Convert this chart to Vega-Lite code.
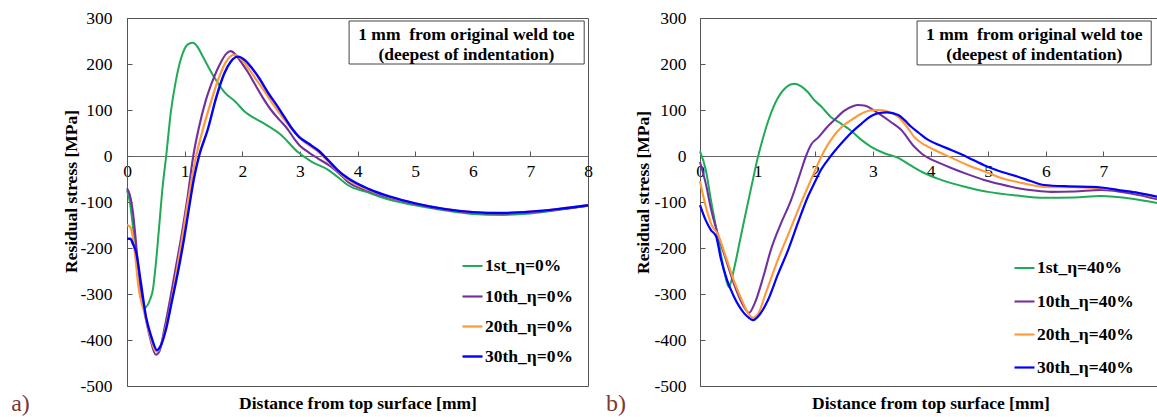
{
  "$schema": "https://vega.github.io/schema/vega-lite/v6.json",
  "background": "white",
  "padding": {"left": 10, "top": 8, "right": 0, "bottom": 0},
  "bounds": "flush",
  "spacing": 112,
  "config": {
    "font": "Liberation Serif, Times New Roman, serif",
    "view": {"stroke": "#555", "strokeWidth": 1},
    "axis": {"grid": false, "labelFont": "Liberation Serif, Times New Roman, serif", "labelFontSize": 17.5, "labelColor": "#000", "titleFont": "Liberation Serif, Times New Roman, serif", "titleFontSize": 17.5, "titleFontWeight": "bold", "titleColor": "#000", "domainColor": "#555", "tickColor": "#555", "labelFlush": false, "labelOverlap": false},
    "legend": {"symbolType": "stroke", "symbolSize": 400, "symbolStrokeWidth": 2.5, "labelFont": "Liberation Serif, Times New Roman, serif", "labelFontSize": 17.5, "labelFontWeight": "bold", "labelColor": "#000", "labelOffset": 1, "padding": 0}
  },
  "datasets": {
    "left": [
      {"d": 0, "s": -75, "series": "1st_η=0%"},
      {"d": 0.05, "s": -100, "series": "1st_η=0%"},
      {"d": 0.1, "s": -150, "series": "1st_η=0%"},
      {"d": 0.2, "s": -260, "series": "1st_η=0%"},
      {"d": 0.3, "s": -330, "series": "1st_η=0%"},
      {"d": 0.4, "s": -312, "series": "1st_η=0%"},
      {"d": 0.45, "s": -290, "series": "1st_η=0%"},
      {"d": 0.5, "s": -235, "series": "1st_η=0%"},
      {"d": 0.55, "s": -165, "series": "1st_η=0%"},
      {"d": 0.62, "s": -65, "series": "1st_η=0%"},
      {"d": 0.68, "s": 0, "series": "1st_η=0%"},
      {"d": 0.76, "s": 95, "series": "1st_η=0%"},
      {"d": 0.85, "s": 165, "series": "1st_η=0%"},
      {"d": 0.97, "s": 224, "series": "1st_η=0%"},
      {"d": 1.05, "s": 242, "series": "1st_η=0%"},
      {"d": 1.14, "s": 246, "series": "1st_η=0%"},
      {"d": 1.22, "s": 238, "series": "1st_η=0%"},
      {"d": 1.32, "s": 215, "series": "1st_η=0%"},
      {"d": 1.49, "s": 176, "series": "1st_η=0%"},
      {"d": 1.69, "s": 139, "series": "1st_η=0%"},
      {"d": 1.89, "s": 117, "series": "1st_η=0%"},
      {"d": 2.03, "s": 98, "series": "1st_η=0%"},
      {"d": 2.33, "s": 74, "series": "1st_η=0%"},
      {"d": 2.67, "s": 46, "series": "1st_η=0%"},
      {"d": 2.97, "s": 8, "series": "1st_η=0%"},
      {"d": 3.2, "s": -12, "series": "1st_η=0%"},
      {"d": 3.49, "s": -30, "series": "1st_η=0%"},
      {"d": 3.65, "s": -45, "series": "1st_η=0%"},
      {"d": 3.83, "s": -63, "series": "1st_η=0%"},
      {"d": 4.2, "s": -80, "series": "1st_η=0%"},
      {"d": 4.58, "s": -96, "series": "1st_η=0%"},
      {"d": 5, "s": -107, "series": "1st_η=0%"},
      {"d": 5.5, "s": -118, "series": "1st_η=0%"},
      {"d": 6, "s": -126, "series": "1st_η=0%"},
      {"d": 6.5, "s": -128, "series": "1st_η=0%"},
      {"d": 7, "s": -125, "series": "1st_η=0%"},
      {"d": 7.5, "s": -117, "series": "1st_η=0%"},
      {"d": 8, "s": -108, "series": "1st_η=0%"},

      {"d": 0, "s": -70, "series": "10th_η=0%"},
      {"d": 0.05, "s": -85, "series": "10th_η=0%"},
      {"d": 0.1, "s": -120, "series": "10th_η=0%"},
      {"d": 0.15, "s": -180, "series": "10th_η=0%"},
      {"d": 0.2, "s": -250, "series": "10th_η=0%"},
      {"d": 0.3, "s": -335, "series": "10th_η=0%"},
      {"d": 0.4, "s": -395, "series": "10th_η=0%"},
      {"d": 0.5, "s": -432, "series": "10th_η=0%"},
      {"d": 0.56, "s": -425, "series": "10th_η=0%"},
      {"d": 0.65, "s": -375, "series": "10th_η=0%"},
      {"d": 0.75, "s": -310, "series": "10th_η=0%"},
      {"d": 0.85, "s": -240, "series": "10th_η=0%"},
      {"d": 0.95, "s": -170, "series": "10th_η=0%"},
      {"d": 1.05, "s": -90, "series": "10th_η=0%"},
      {"d": 1.15, "s": 0, "series": "10th_η=0%"},
      {"d": 1.25, "s": 63, "series": "10th_η=0%"},
      {"d": 1.37, "s": 122, "series": "10th_η=0%"},
      {"d": 1.49, "s": 165, "series": "10th_η=0%"},
      {"d": 1.63, "s": 204, "series": "10th_η=0%"},
      {"d": 1.72, "s": 222, "series": "10th_η=0%"},
      {"d": 1.8, "s": 228, "series": "10th_η=0%"},
      {"d": 1.9, "s": 218, "series": "10th_η=0%"},
      {"d": 1.98, "s": 204, "series": "10th_η=0%"},
      {"d": 2.1, "s": 182, "series": "10th_η=0%"},
      {"d": 2.21, "s": 158, "series": "10th_η=0%"},
      {"d": 2.35, "s": 128, "series": "10th_η=0%"},
      {"d": 2.5, "s": 100, "series": "10th_η=0%"},
      {"d": 2.65, "s": 78, "series": "10th_η=0%"},
      {"d": 2.79, "s": 58, "series": "10th_η=0%"},
      {"d": 2.9, "s": 38, "series": "10th_η=0%"},
      {"d": 3.02, "s": 20, "series": "10th_η=0%"},
      {"d": 3.15, "s": 8, "series": "10th_η=0%"},
      {"d": 3.31, "s": -5, "series": "10th_η=0%"},
      {"d": 3.54, "s": -23, "series": "10th_η=0%"},
      {"d": 3.7, "s": -40, "series": "10th_η=0%"},
      {"d": 3.83, "s": -56, "series": "10th_η=0%"},
      {"d": 4.2, "s": -76, "series": "10th_η=0%"},
      {"d": 4.58, "s": -92, "series": "10th_η=0%"},
      {"d": 5, "s": -104, "series": "10th_η=0%"},
      {"d": 5.5, "s": -116, "series": "10th_η=0%"},
      {"d": 6, "s": -123, "series": "10th_η=0%"},
      {"d": 6.5, "s": -125, "series": "10th_η=0%"},
      {"d": 7, "s": -122, "series": "10th_η=0%"},
      {"d": 7.5, "s": -116, "series": "10th_η=0%"},
      {"d": 8, "s": -108, "series": "10th_η=0%"},

      {"d": 0, "s": -150, "series": "20th_η=0%"},
      {"d": 0.06, "s": -155, "series": "20th_η=0%"},
      {"d": 0.1, "s": -175, "series": "20th_η=0%"},
      {"d": 0.15, "s": -225, "series": "20th_η=0%"},
      {"d": 0.2, "s": -285, "series": "20th_η=0%"},
      {"d": 0.3, "s": -340, "series": "20th_η=0%"},
      {"d": 0.4, "s": -390, "series": "20th_η=0%"},
      {"d": 0.5, "s": -425, "series": "20th_η=0%"},
      {"d": 0.55, "s": -422, "series": "20th_η=0%"},
      {"d": 0.65, "s": -385, "series": "20th_η=0%"},
      {"d": 0.75, "s": -330, "series": "20th_η=0%"},
      {"d": 0.85, "s": -260, "series": "20th_η=0%"},
      {"d": 0.95, "s": -185, "series": "20th_η=0%"},
      {"d": 1.05, "s": -105, "series": "20th_η=0%"},
      {"d": 1.2, "s": 0, "series": "20th_η=0%"},
      {"d": 1.3, "s": 50, "series": "20th_η=0%"},
      {"d": 1.45, "s": 115, "series": "20th_η=0%"},
      {"d": 1.6, "s": 172, "series": "20th_η=0%"},
      {"d": 1.72, "s": 205, "series": "20th_η=0%"},
      {"d": 1.85, "s": 220, "series": "20th_η=0%"},
      {"d": 1.97, "s": 212, "series": "20th_η=0%"},
      {"d": 2.1, "s": 192, "series": "20th_η=0%"},
      {"d": 2.25, "s": 165, "series": "20th_η=0%"},
      {"d": 2.4, "s": 138, "series": "20th_η=0%"},
      {"d": 2.55, "s": 110, "series": "20th_η=0%"},
      {"d": 2.7, "s": 84, "series": "20th_η=0%"},
      {"d": 2.85, "s": 60, "series": "20th_η=0%"},
      {"d": 2.99, "s": 40, "series": "20th_η=0%"},
      {"d": 3.15, "s": 24, "series": "20th_η=0%"},
      {"d": 3.31, "s": 10, "series": "20th_η=0%"},
      {"d": 3.49, "s": -12, "series": "20th_η=0%"},
      {"d": 3.65, "s": -32, "series": "20th_η=0%"},
      {"d": 3.83, "s": -51, "series": "20th_η=0%"},
      {"d": 4.2, "s": -74, "series": "20th_η=0%"},
      {"d": 4.58, "s": -90, "series": "20th_η=0%"},
      {"d": 5, "s": -103, "series": "20th_η=0%"},
      {"d": 5.5, "s": -115, "series": "20th_η=0%"},
      {"d": 6, "s": -122, "series": "20th_η=0%"},
      {"d": 6.5, "s": -124, "series": "20th_η=0%"},
      {"d": 7, "s": -121, "series": "20th_η=0%"},
      {"d": 7.5, "s": -115, "series": "20th_η=0%"},
      {"d": 8, "s": -107, "series": "20th_η=0%"},

      {"d": 0, "s": -180, "series": "30th_η=0%"},
      {"d": 0.06, "s": -180, "series": "30th_η=0%"},
      {"d": 0.1, "s": -190, "series": "30th_η=0%"},
      {"d": 0.16, "s": -210, "series": "30th_η=0%"},
      {"d": 0.24, "s": -275, "series": "30th_η=0%"},
      {"d": 0.33, "s": -350, "series": "30th_η=0%"},
      {"d": 0.42, "s": -392, "series": "30th_η=0%"},
      {"d": 0.52, "s": -422, "series": "30th_η=0%"},
      {"d": 0.58, "s": -414, "series": "30th_η=0%"},
      {"d": 0.67, "s": -380, "series": "30th_η=0%"},
      {"d": 0.78, "s": -315, "series": "30th_η=0%"},
      {"d": 0.88, "s": -255, "series": "30th_η=0%"},
      {"d": 0.99, "s": -180, "series": "30th_η=0%"},
      {"d": 1.08, "s": -110, "series": "30th_η=0%"},
      {"d": 1.16, "s": -50, "series": "30th_η=0%"},
      {"d": 1.25, "s": 0, "series": "30th_η=0%"},
      {"d": 1.4, "s": 57, "series": "30th_η=0%"},
      {"d": 1.55, "s": 128, "series": "30th_η=0%"},
      {"d": 1.69, "s": 180, "series": "30th_η=0%"},
      {"d": 1.8, "s": 205, "series": "30th_η=0%"},
      {"d": 1.92, "s": 216, "series": "30th_η=0%"},
      {"d": 2.05, "s": 208, "series": "30th_η=0%"},
      {"d": 2.15, "s": 194, "series": "30th_η=0%"},
      {"d": 2.3, "s": 168, "series": "30th_η=0%"},
      {"d": 2.45, "s": 137, "series": "30th_η=0%"},
      {"d": 2.6, "s": 110, "series": "30th_η=0%"},
      {"d": 2.73, "s": 85, "series": "30th_η=0%"},
      {"d": 2.85, "s": 62, "series": "30th_η=0%"},
      {"d": 2.99, "s": 41, "series": "30th_η=0%"},
      {"d": 3.15, "s": 27, "series": "30th_η=0%"},
      {"d": 3.31, "s": 13, "series": "30th_η=0%"},
      {"d": 3.49, "s": -9, "series": "30th_η=0%"},
      {"d": 3.65, "s": -30, "series": "30th_η=0%"},
      {"d": 3.83, "s": -48, "series": "30th_η=0%"},
      {"d": 4.2, "s": -72, "series": "30th_η=0%"},
      {"d": 4.58, "s": -89, "series": "30th_η=0%"},
      {"d": 5, "s": -103, "series": "30th_η=0%"},
      {"d": 5.5, "s": -115, "series": "30th_η=0%"},
      {"d": 6, "s": -122, "series": "30th_η=0%"},
      {"d": 6.5, "s": -124, "series": "30th_η=0%"},
      {"d": 7, "s": -121, "series": "30th_η=0%"},
      {"d": 7.5, "s": -115, "series": "30th_η=0%"},
      {"d": 8, "s": -107, "series": "30th_η=0%"}
    ],
    "right": [
      {"d": 0, "s": 10, "series": "1st_η=40%"},
      {"d": 0.1, "s": -30, "series": "1st_η=40%"},
      {"d": 0.19, "s": -96, "series": "1st_η=40%"},
      {"d": 0.31, "s": -176, "series": "1st_η=40%"},
      {"d": 0.42, "s": -250, "series": "1st_η=40%"},
      {"d": 0.5, "s": -285, "series": "1st_η=40%"},
      {"d": 0.6, "s": -240, "series": "1st_η=40%"},
      {"d": 0.7, "s": -180, "series": "1st_η=40%"},
      {"d": 0.8, "s": -120, "series": "1st_η=40%"},
      {"d": 0.9, "s": -62, "series": "1st_η=40%"},
      {"d": 1.0, "s": -5, "series": "1st_η=40%"},
      {"d": 1.1, "s": 42, "series": "1st_η=40%"},
      {"d": 1.2, "s": 82, "series": "1st_η=40%"},
      {"d": 1.35, "s": 126, "series": "1st_η=40%"},
      {"d": 1.5, "s": 150, "series": "1st_η=40%"},
      {"d": 1.63, "s": 157, "series": "1st_η=40%"},
      {"d": 1.75, "s": 152, "series": "1st_η=40%"},
      {"d": 1.87, "s": 139, "series": "1st_η=40%"},
      {"d": 1.98, "s": 122, "series": "1st_η=40%"},
      {"d": 2.1, "s": 108, "series": "1st_η=40%"},
      {"d": 2.27, "s": 85, "series": "1st_η=40%"},
      {"d": 2.45, "s": 70, "series": "1st_η=40%"},
      {"d": 2.62, "s": 55, "series": "1st_η=40%"},
      {"d": 2.8, "s": 35, "series": "1st_η=40%"},
      {"d": 2.97, "s": 20, "series": "1st_η=40%"},
      {"d": 3.2, "s": 6, "series": "1st_η=40%"},
      {"d": 3.44, "s": -4, "series": "1st_η=40%"},
      {"d": 3.65, "s": -20, "series": "1st_η=40%"},
      {"d": 3.89, "s": -37, "series": "1st_η=40%"},
      {"d": 4.1, "s": -48, "series": "1st_η=40%"},
      {"d": 4.36, "s": -59, "series": "1st_η=40%"},
      {"d": 4.7, "s": -70, "series": "1st_η=40%"},
      {"d": 5.0, "s": -78, "series": "1st_η=40%"},
      {"d": 5.5, "s": -86, "series": "1st_η=40%"},
      {"d": 5.97, "s": -91, "series": "1st_η=40%"},
      {"d": 6.5, "s": -90, "series": "1st_η=40%"},
      {"d": 6.96, "s": -87, "series": "1st_η=40%"},
      {"d": 7.5, "s": -93, "series": "1st_η=40%"},
      {"d": 8.0, "s": -104, "series": "1st_η=40%"},

      {"d": 0, "s": -13, "series": "10th_η=40%"},
      {"d": 0.1, "s": -60, "series": "10th_η=40%"},
      {"d": 0.2, "s": -120, "series": "10th_η=40%"},
      {"d": 0.31, "s": -170, "series": "10th_η=40%"},
      {"d": 0.45, "s": -225, "series": "10th_η=40%"},
      {"d": 0.6, "s": -282, "series": "10th_η=40%"},
      {"d": 0.75, "s": -325, "series": "10th_η=40%"},
      {"d": 0.85, "s": -341, "series": "10th_η=40%"},
      {"d": 0.95, "s": -320, "series": "10th_η=40%"},
      {"d": 1.1, "s": -262, "series": "10th_η=40%"},
      {"d": 1.23, "s": -204, "series": "10th_η=40%"},
      {"d": 1.4, "s": -148, "series": "10th_η=40%"},
      {"d": 1.58, "s": -96, "series": "10th_η=40%"},
      {"d": 1.72, "s": -45, "series": "10th_η=40%"},
      {"d": 1.84, "s": 0, "series": "10th_η=40%"},
      {"d": 1.93, "s": 25, "series": "10th_η=40%"},
      {"d": 2.05, "s": 40, "series": "10th_η=40%"},
      {"d": 2.2, "s": 62, "series": "10th_η=40%"},
      {"d": 2.33, "s": 78, "series": "10th_η=40%"},
      {"d": 2.5, "s": 98, "series": "10th_η=40%"},
      {"d": 2.65, "s": 108, "series": "10th_η=40%"},
      {"d": 2.74, "s": 111, "series": "10th_η=40%"},
      {"d": 2.85, "s": 110, "series": "10th_η=40%"},
      {"d": 3.09, "s": 93, "series": "10th_η=40%"},
      {"d": 3.3, "s": 75, "series": "10th_η=40%"},
      {"d": 3.49, "s": 57, "series": "10th_η=40%"},
      {"d": 3.72, "s": 20, "series": "10th_η=40%"},
      {"d": 3.85, "s": 5, "series": "10th_η=40%"},
      {"d": 3.96, "s": -4, "series": "10th_η=40%"},
      {"d": 4.15, "s": -15, "series": "10th_η=40%"},
      {"d": 4.36, "s": -26, "series": "10th_η=40%"},
      {"d": 4.65, "s": -40, "series": "10th_η=40%"},
      {"d": 4.93, "s": -52, "series": "10th_η=40%"},
      {"d": 5.2, "s": -61, "series": "10th_η=40%"},
      {"d": 5.52, "s": -70, "series": "10th_η=40%"},
      {"d": 5.8, "s": -75, "series": "10th_η=40%"},
      {"d": 6.09, "s": -78, "series": "10th_η=40%"},
      {"d": 6.5, "s": -77, "series": "10th_η=40%"},
      {"d": 6.96, "s": -74, "series": "10th_η=40%"},
      {"d": 7.5, "s": -82, "series": "10th_η=40%"},
      {"d": 8.0, "s": -96, "series": "10th_η=40%"},

      {"d": 0, "s": -55, "series": "20th_η=40%"},
      {"d": 0.1, "s": -110, "series": "20th_η=40%"},
      {"d": 0.2, "s": -150, "series": "20th_η=40%"},
      {"d": 0.31, "s": -170, "series": "20th_η=40%"},
      {"d": 0.45, "s": -220, "series": "20th_η=40%"},
      {"d": 0.6, "s": -275, "series": "20th_η=40%"},
      {"d": 0.75, "s": -320, "series": "20th_η=40%"},
      {"d": 0.85, "s": -345, "series": "20th_η=40%"},
      {"d": 0.92, "s": -352, "series": "20th_η=40%"},
      {"d": 1.0, "s": -345, "series": "20th_η=40%"},
      {"d": 1.15, "s": -295, "series": "20th_η=40%"},
      {"d": 1.35, "s": -226, "series": "20th_η=40%"},
      {"d": 1.55, "s": -165, "series": "20th_η=40%"},
      {"d": 1.75, "s": -103, "series": "20th_η=40%"},
      {"d": 1.95, "s": -45, "series": "20th_η=40%"},
      {"d": 2.05, "s": -16, "series": "20th_η=40%"},
      {"d": 2.15, "s": 10, "series": "20th_η=40%"},
      {"d": 2.3, "s": 40, "series": "20th_η=40%"},
      {"d": 2.45, "s": 62, "series": "20th_η=40%"},
      {"d": 2.62, "s": 78, "series": "20th_η=40%"},
      {"d": 2.8, "s": 92, "series": "20th_η=40%"},
      {"d": 2.95, "s": 99, "series": "20th_η=40%"},
      {"d": 3.09, "s": 100, "series": "20th_η=40%"},
      {"d": 3.25, "s": 97, "series": "20th_η=40%"},
      {"d": 3.44, "s": 85, "series": "20th_η=40%"},
      {"d": 3.6, "s": 62, "series": "20th_η=40%"},
      {"d": 3.72, "s": 41, "series": "20th_η=40%"},
      {"d": 3.9, "s": 24, "series": "20th_η=40%"},
      {"d": 4.07, "s": 13, "series": "20th_η=40%"},
      {"d": 4.35, "s": -3, "series": "20th_η=40%"},
      {"d": 4.65, "s": -20, "series": "20th_η=40%"},
      {"d": 4.95, "s": -34, "series": "20th_η=40%"},
      {"d": 5.23, "s": -48, "series": "20th_η=40%"},
      {"d": 5.6, "s": -59, "series": "20th_η=40%"},
      {"d": 5.97, "s": -67, "series": "20th_η=40%"},
      {"d": 6.5, "s": -68, "series": "20th_η=40%"},
      {"d": 6.96, "s": -70, "series": "20th_η=40%"},
      {"d": 7.5, "s": -78, "series": "20th_η=40%"},
      {"d": 8.0, "s": -92, "series": "20th_η=40%"},

      {"d": 0, "s": -107, "series": "30th_η=40%"},
      {"d": 0.1, "s": -140, "series": "30th_η=40%"},
      {"d": 0.19, "s": -161, "series": "30th_η=40%"},
      {"d": 0.28, "s": -175, "series": "30th_η=40%"},
      {"d": 0.36, "s": -222, "series": "30th_η=40%"},
      {"d": 0.47, "s": -270, "series": "30th_η=40%"},
      {"d": 0.59, "s": -306, "series": "30th_η=40%"},
      {"d": 0.76, "s": -341, "series": "30th_η=40%"},
      {"d": 0.85, "s": -352, "series": "30th_η=40%"},
      {"d": 0.92, "s": -357, "series": "30th_η=40%"},
      {"d": 1.0, "s": -350, "series": "30th_η=40%"},
      {"d": 1.18, "s": -313, "series": "30th_η=40%"},
      {"d": 1.35, "s": -258, "series": "30th_η=40%"},
      {"d": 1.53, "s": -204, "series": "30th_η=40%"},
      {"d": 1.7, "s": -145, "series": "30th_η=40%"},
      {"d": 1.87, "s": -89, "series": "30th_η=40%"},
      {"d": 2.0, "s": -55, "series": "30th_η=40%"},
      {"d": 2.1, "s": -30, "series": "30th_η=40%"},
      {"d": 2.27, "s": 0, "series": "30th_η=40%"},
      {"d": 2.45, "s": 27, "series": "30th_η=40%"},
      {"d": 2.62, "s": 50, "series": "30th_η=40%"},
      {"d": 2.8, "s": 70, "series": "30th_η=40%"},
      {"d": 2.91, "s": 82, "series": "30th_η=40%"},
      {"d": 3.09, "s": 93, "series": "30th_η=40%"},
      {"d": 3.25, "s": 95, "series": "30th_η=40%"},
      {"d": 3.44, "s": 89, "series": "30th_η=40%"},
      {"d": 3.55, "s": 78, "series": "30th_η=40%"},
      {"d": 3.66, "s": 64, "series": "30th_η=40%"},
      {"d": 3.8, "s": 50, "series": "30th_η=40%"},
      {"d": 3.96, "s": 35, "series": "30th_η=40%"},
      {"d": 4.15, "s": 24, "series": "30th_η=40%"},
      {"d": 4.36, "s": 13, "series": "30th_η=40%"},
      {"d": 4.65, "s": -3, "series": "30th_η=40%"},
      {"d": 4.93, "s": -20, "series": "30th_η=40%"},
      {"d": 5.2, "s": -33, "series": "30th_η=40%"},
      {"d": 5.52, "s": -45, "series": "30th_η=40%"},
      {"d": 5.75, "s": -55, "series": "30th_η=40%"},
      {"d": 5.97, "s": -63, "series": "30th_η=40%"},
      {"d": 6.4, "s": -66, "series": "30th_η=40%"},
      {"d": 6.79, "s": -67, "series": "30th_η=40%"},
      {"d": 7.0, "s": -69, "series": "30th_η=40%"},
      {"d": 7.26, "s": -74, "series": "30th_η=40%"},
      {"d": 7.6, "s": -80, "series": "30th_η=40%"},
      {"d": 8.0, "s": -90, "series": "30th_η=40%"}
    ]
  },
  "resolve": {"scale": {"color": "independent", "strokeWidth": "independent"}},
  "hconcat": [
    {
      "width": 461,
      "height": 368,
      "layer": [
        {
          "data": {"name": "left"},
          "mark": {"type": "line", "interpolate": "monotone"},
          "encoding": {
            "x": {"field": "d", "type": "quantitative", "scale": {"domain": [0, 8], "nice": false, "zero": false},
              "axis": {"title": "Distance from top surface [mm]", "values": [0,0.5,1,1.5,2,2.5,3,3.5,4,4.5,5,5.5,6,6.5,7,7.5,8], "labelExpr": "datum.value % 1 === 0 ? '' + datum.value : ''", "offset": -230, "tickSize": -5, "labelPadding": 11, "titleY": 247, "titleBaseline": "middle", "domainColor": "#666"}},
            "y": {"field": "s", "type": "quantitative", "scale": {"domain": [-500, 300], "nice": false, "zero": false},
              "axis": {"title": "Residual stress [MPa]", "values": [-500,-450,-400,-350,-300,-250,-200,-150,-100,-50,0,50,100,150,200,250,300], "labelExpr": "datum.value % 100 === 0 ? '' + datum.value : ''", "tickSize": -5, "labelPadding": 20, "titleX": -56, "titleY": 173, "titleAngle": -90, "titleAlign": "center", "titleBaseline": "middle"}},
            "color": {"field": "series", "type": "nominal",
              "scale": {"domain": ["1st_η=0%", "10th_η=0%", "20th_η=0%", "30th_η=0%"], "range": ["#1FAA55", "#7030A0", "#FF9A3C", "#0000FF"]},
              "legend": {"title": null, "orient": "none", "legendX": 334, "legendY": 237, "rowPadding": 10}},
            "strokeWidth": {"field": "series", "type": "nominal",
              "scale": {"domain": ["1st_η=0%", "10th_η=0%", "20th_η=0%", "30th_η=0%"], "range": [2, 2.4, 2, 2.6]}, "legend": null}
          }
        },
        {
          "data": {"values": [{"d": 3.854, "d2": 7.934, "s": 293.5, "s2": 200}]},
          "mark": {"type": "rect", "fill": "white", "stroke": "#444", "strokeWidth": 1},
          "encoding": {"x": {"field": "d", "type": "quantitative"}, "x2": {"field": "d2"}, "y": {"field": "s", "type": "quantitative"}, "y2": {"field": "s2"}}
        },
        {
          "data": {"values": [{"d": 5.89, "s": 263, "t": "1 mm\u00a0 from original weld toe"}, {"d": 5.89, "s": 220, "t": "(deepest of indentation)"}]},
          "mark": {"type": "text", "font": "Liberation Serif, Times New Roman, serif", "fontSize": 17.5, "fontWeight": "bold", "align": "center", "baseline": "middle", "color": "#000"},
          "encoding": {"x": {"field": "d", "type": "quantitative"}, "y": {"field": "s", "type": "quantitative"}, "text": {"field": "t"}}
        },
        {
          "data": {"values": [{"d": -2.01, "s": -555, "t": "a)"}]},
          "mark": {"type": "text", "font": "Liberation Serif, Times New Roman, serif", "fontSize": 24, "align": "left", "baseline": "alphabetic", "color": "#7A3A32"},
          "encoding": {"x": {"field": "d", "type": "quantitative"}, "y": {"field": "s", "type": "quantitative"}, "text": {"field": "t"}}
        }
      ]
    },
    {
      "width": 461,
      "height": 368,
      "layer": [
        {
          "data": {"name": "right"},
          "mark": {"type": "line", "interpolate": "monotone"},
          "encoding": {
            "x": {"field": "d", "type": "quantitative", "scale": {"domain": [0, 8], "nice": false, "zero": false},
              "axis": {"title": "Distance from top surface [mm]", "values": [0,0.5,1,1.5,2,2.5,3,3.5,4,4.5,5,5.5,6,6.5,7,7.5,8], "labelExpr": "datum.value % 1 === 0 ? '' + datum.value : ''", "offset": -230, "tickSize": -5, "labelPadding": 11, "titleY": 247, "titleBaseline": "middle", "domainColor": "#666"}},
            "y": {"field": "s", "type": "quantitative", "scale": {"domain": [-500, 300], "nice": false, "zero": false},
              "axis": {"title": "Residual stress [MPa]", "values": [-500,-450,-400,-350,-300,-250,-200,-150,-100,-50,0,50,100,150,200,250,300], "labelExpr": "datum.value % 100 === 0 ? '' + datum.value : ''", "tickSize": -5, "labelPadding": 19, "titleX": -57, "titleY": 174, "titleAngle": -90, "titleAlign": "center", "titleBaseline": "middle"}},
            "color": {"field": "series", "type": "nominal",
              "scale": {"domain": ["1st_η=40%", "10th_η=40%", "20th_η=40%", "30th_η=40%"], "range": ["#1FAA55", "#7030A0", "#FF9A3C", "#0000FF"]},
              "legend": {"title": null, "orient": "none", "legendX": 313, "legendY": 239, "rowPadding": 13}},
            "strokeWidth": {"field": "series", "type": "nominal",
              "scale": {"domain": ["1st_η=40%", "10th_η=40%", "20th_η=40%", "30th_η=40%"], "range": [2, 2.2, 2, 2.4]}, "legend": null}
          }
        },
        {
          "data": {"values": [{"d": 3.767, "d2": 7.83, "s": 293.5, "s2": 198}]},
          "mark": {"type": "rect", "fill": "white", "stroke": "#444", "strokeWidth": 1},
          "encoding": {"x": {"field": "d", "type": "quantitative"}, "x2": {"field": "d2"}, "y": {"field": "s", "type": "quantitative"}, "y2": {"field": "s2"}}
        },
        {
          "data": {"values": [{"d": 5.8, "s": 263, "t": "1 mm\u00a0 from original weld toe"}, {"d": 5.8, "s": 220, "t": "(deepest of indentation)"}]},
          "mark": {"type": "text", "font": "Liberation Serif, Times New Roman, serif", "fontSize": 17.5, "fontWeight": "bold", "align": "center", "baseline": "middle", "color": "#000"},
          "encoding": {"x": {"field": "d", "type": "quantitative"}, "y": {"field": "s", "type": "quantitative"}, "text": {"field": "t"}}
        },
        {
          "data": {"values": [{"d": -1.63, "s": -555, "t": "b)"}]},
          "mark": {"type": "text", "font": "Liberation Serif, Times New Roman, serif", "fontSize": 24, "align": "left", "baseline": "alphabetic", "color": "#7A3A32"},
          "encoding": {"x": {"field": "d", "type": "quantitative"}, "y": {"field": "s", "type": "quantitative"}, "text": {"field": "t"}}
        }
      ]
    }
  ]
}
